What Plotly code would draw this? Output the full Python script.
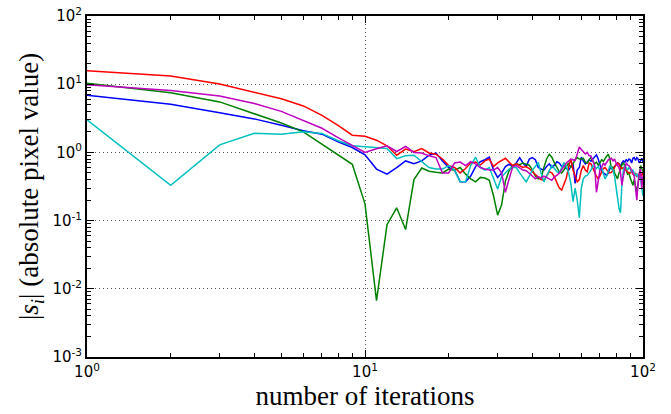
import numpy as np
import plotly.graph_objects as go

iterations = list(range(1, 101))

blue = [6.9, 5.1, 3.8, 3.1, 2.5, 2.07, 1.85, 1.43, 1.18, 0.92,
        0.57, 0.48, 0.6, 0.75, 0.68, 0.75, 0.91, 0.98, 0.75, 0.6,
        0.55, 0.37, 0.37, 0.45, 0.62, 0.73, 0.78, 0.85, 0.55, 0.43,
        0.5, 0.62, 0.67, 0.62, 0.7, 0.84, 0.7, 0.62, 0.8, 0.84,
        0.78, 0.6, 0.57, 0.55, 0.62, 0.68, 0.6, 0.65, 0.73, 0.7,
        0.62, 0.64, 0.58, 0.55, 0.62, 0.7, 0.35, 0.55, 0.6, 0.85,
        0.75, 0.68, 0.72, 0.78, 0.74, 0.8, 0.88, 0.92, 0.8, 0.65,
        0.55, 0.5, 0.48, 0.46, 0.5, 0.58, 0.6, 0.55, 0.62, 0.66,
        0.7, 0.68, 0.62, 0.7, 0.75, 0.72, 0.78, 0.74, 0.8, 0.78,
        0.7, 0.82, 0.84, 0.76, 0.84, 0.8, 0.7, 0.75, 0.82, 0.72]

green = [10.3, 7.5, 5.5, 3.7, 2.7, 2.0, 1.32, 0.94, 0.67, 0.176,
         0.0067, 0.087, 0.154, 0.074, 0.4, 0.59, 0.53, 0.51, 0.5, 0.57,
         0.55, 0.6, 0.48, 0.41, 0.37, 0.43, 0.42, 0.39, 0.23, 0.12,
         0.17, 0.38, 0.54, 0.64, 0.68, 0.66, 0.7, 0.67, 0.65, 0.55,
         0.45, 0.41, 0.42, 0.6, 0.8, 0.94, 0.85, 0.7, 0.6, 0.52,
         0.5, 0.55, 0.62, 0.7, 0.6, 0.68, 0.78, 0.84, 0.8, 0.8,
         0.82, 0.72, 0.7, 0.78, 0.84, 0.75, 0.68, 0.72, 0.65, 0.7,
         0.78, 0.74, 0.82, 0.88, 0.94, 0.8, 0.57, 0.62, 0.5, 0.45,
         0.41, 0.5, 0.6, 0.66, 0.71, 0.6, 0.55, 0.48, 0.5, 0.42,
         0.38, 0.33, 0.4, 0.3, 0.26, 0.35, 0.5, 0.64, 0.58, 0.52]

red = [15.8, 13.2, 10.1, 7.7, 6.1, 4.8, 3.5, 2.5, 1.79, 1.72,
       1.51, 1.25, 0.91, 1.12, 1.02, 1.14, 0.98, 0.94, 0.8, 0.64,
       0.6, 0.5, 0.58, 0.7, 0.72, 0.65, 0.75, 0.8, 0.62, 0.7,
       0.75, 0.82, 0.72, 0.64, 0.68, 0.64, 0.6, 0.62, 0.58, 0.52,
       0.48, 0.44, 0.4, 0.39, 0.45, 0.52, 0.5, 0.44, 0.36, 0.3,
       0.28, 0.35, 0.42, 0.62, 0.8, 0.55, 0.45, 0.37, 0.4, 0.55,
       0.64, 0.55, 0.52, 0.7, 0.68, 0.58, 0.5, 0.45, 0.41, 0.45,
       0.52, 0.58, 0.6, 0.55, 0.52, 0.5, 0.51, 0.55, 0.62, 0.66,
       0.7, 0.68, 0.6, 0.58, 0.6, 0.58, 0.55, 0.52, 0.5, 0.5,
       0.52, 0.48, 0.46, 0.5, 0.45, 0.47, 0.44, 0.48, 0.46, 0.5]

cyan = [3.0, 0.33, 1.29, 1.91, 1.85, 2.0, 1.9, 1.48, 1.25, 1.2,
        1.18, 1.14, 0.81, 0.89, 0.91, 0.73, 0.6, 0.57, 0.57, 0.64,
        0.55, 0.37, 0.37, 0.64, 0.85, 0.6, 0.55, 0.6, 0.41, 0.29,
        0.44, 0.5, 0.57, 0.6, 0.6, 0.5, 0.42, 0.37, 0.45, 0.55,
        0.62, 0.71, 0.5, 0.37, 0.45, 0.55, 0.64, 0.58, 0.52, 0.5,
        0.6, 0.71, 0.62, 0.5, 0.35, 0.19, 0.3, 0.2, 0.11, 0.3,
        0.41, 0.45, 0.46, 0.5, 0.55, 0.64, 0.6, 0.58, 0.62, 0.55,
        0.6, 0.5, 0.41, 0.45, 0.55, 0.64, 0.6, 0.55, 0.45, 0.29,
        0.2, 0.15, 0.13, 0.35, 0.55, 0.64, 0.6, 0.55, 0.6, 0.57,
        0.52, 0.55, 0.5, 0.46, 0.48, 0.44, 0.46, 0.42, 0.3, 0.23]

magenta = [9.8, 8.1, 6.7, 5.2, 4.0, 2.9, 2.26, 1.65, 1.25, 1.0,
           1.13, 1.25, 1.03, 1.22, 1.0, 0.98, 0.89, 0.84, 0.5, 0.5,
           0.7, 0.72, 0.64, 0.73, 0.68, 0.6, 0.57, 0.55, 0.55, 0.6,
           0.5, 0.26, 0.41, 0.62, 0.64, 0.6, 0.55, 0.54, 0.5, 0.45,
           0.41, 0.44, 0.42, 0.45, 0.43, 0.41, 0.39, 0.44, 0.46, 0.5,
           0.55, 0.62, 0.7, 0.75, 0.8, 0.78, 0.76, 0.95, 1.2, 1.1,
           1.0, 0.95, 1.0, 0.9, 0.88, 0.72, 0.64, 0.26, 0.4, 0.55,
           0.6, 0.7, 0.65, 0.72, 0.78, 0.8, 0.82, 0.75, 0.8, 0.7,
           0.64, 0.6, 0.5, 0.33, 0.45, 0.6, 0.71, 0.65, 0.64, 0.6,
           0.55, 0.5, 0.45, 0.3, 0.2, 0.35, 0.5, 0.57, 0.3, 0.45]

x_tick_vals = [1, 10, 100]
x_tick_text = ["10<sup>0</sup>", "10<sup>1</sup>", "10<sup>2</sup>"]
y_tick_vals = [1e-3, 1e-2, 1e-1, 1, 10, 100]
y_tick_text = ["10<sup>-3</sup>", "10<sup>-2</sup>", "10<sup>-1</sup>",
               "10<sup>0</sup>", "10<sup>1</sup>", "10<sup>2</sup>"]
minor_digits = [2, 3, 4, 5, 6, 7, 8, 9]
x_minor_vals = [d * 10 ** e for e in range(0, 2) for d in minor_digits]
y_minor_vals = [d * 10 ** e for e in range(-3, 2) for d in minor_digits]

series = [(blue, "#0000ff"), (green, "#008000"), (red, "#ff0000"),
          (cyan, "#00bfbf"), (magenta, "#bf00bf")]

fig = go.Figure()
for vals, col in series:
    fig.add_trace(go.Scatter(x=iterations, y=vals, mode="lines",
                             line=dict(color=col, width=1.5),
                             showlegend=False, hoverinfo="skip"))

axis_common = dict(
    type="log", automargin=False, ticklabeloverflow="allow",
    showline=True, linecolor="black", linewidth=2, mirror="allticks",
    ticks="inside", ticklen=7, tickwidth=1, tickcolor="black",
    showgrid=True, gridcolor="#555555", griddash="1px,3px", gridwidth=1,
    zeroline=False,
    tickfont=dict(family="DejaVu Sans", size=15, color="black"),
)

title_font = dict(family="Liberation Serif", size=27, color="black")

fig.update_xaxes(range=[0, 2], tickvals=x_tick_vals, ticktext=x_tick_text,
                 minor=dict(ticks="inside", ticklen=4, tickcolor="black",
                            tickvals=x_minor_vals, showgrid=False),
                 title=dict(text="number of iterations", font=title_font, standoff=2),
                 **axis_common)
fig.update_yaxes(range=[-3, 2], tickvals=y_tick_vals, ticktext=y_tick_text,
                 minor=dict(ticks="inside", ticklen=4, tickcolor="black",
                            tickvals=y_minor_vals, showgrid=False),
                 title=dict(text="|<i>s<sub>i</sub></i>| (absolute pixel value)",
                            font=title_font, standoff=6),
                 **axis_common)

fig.update_layout(width=671, height=414,
                  margin=dict(l=87, r=28, t=16, b=57),
                  plot_bgcolor="white", paper_bgcolor="white")

# remove the page's default body margin so the figure sits at the window's corner
fig.write_html("out.html", config={"displayModeBar": False},
               post_script="document.body.style.margin='0';document.body.style.overflow='hidden';")
